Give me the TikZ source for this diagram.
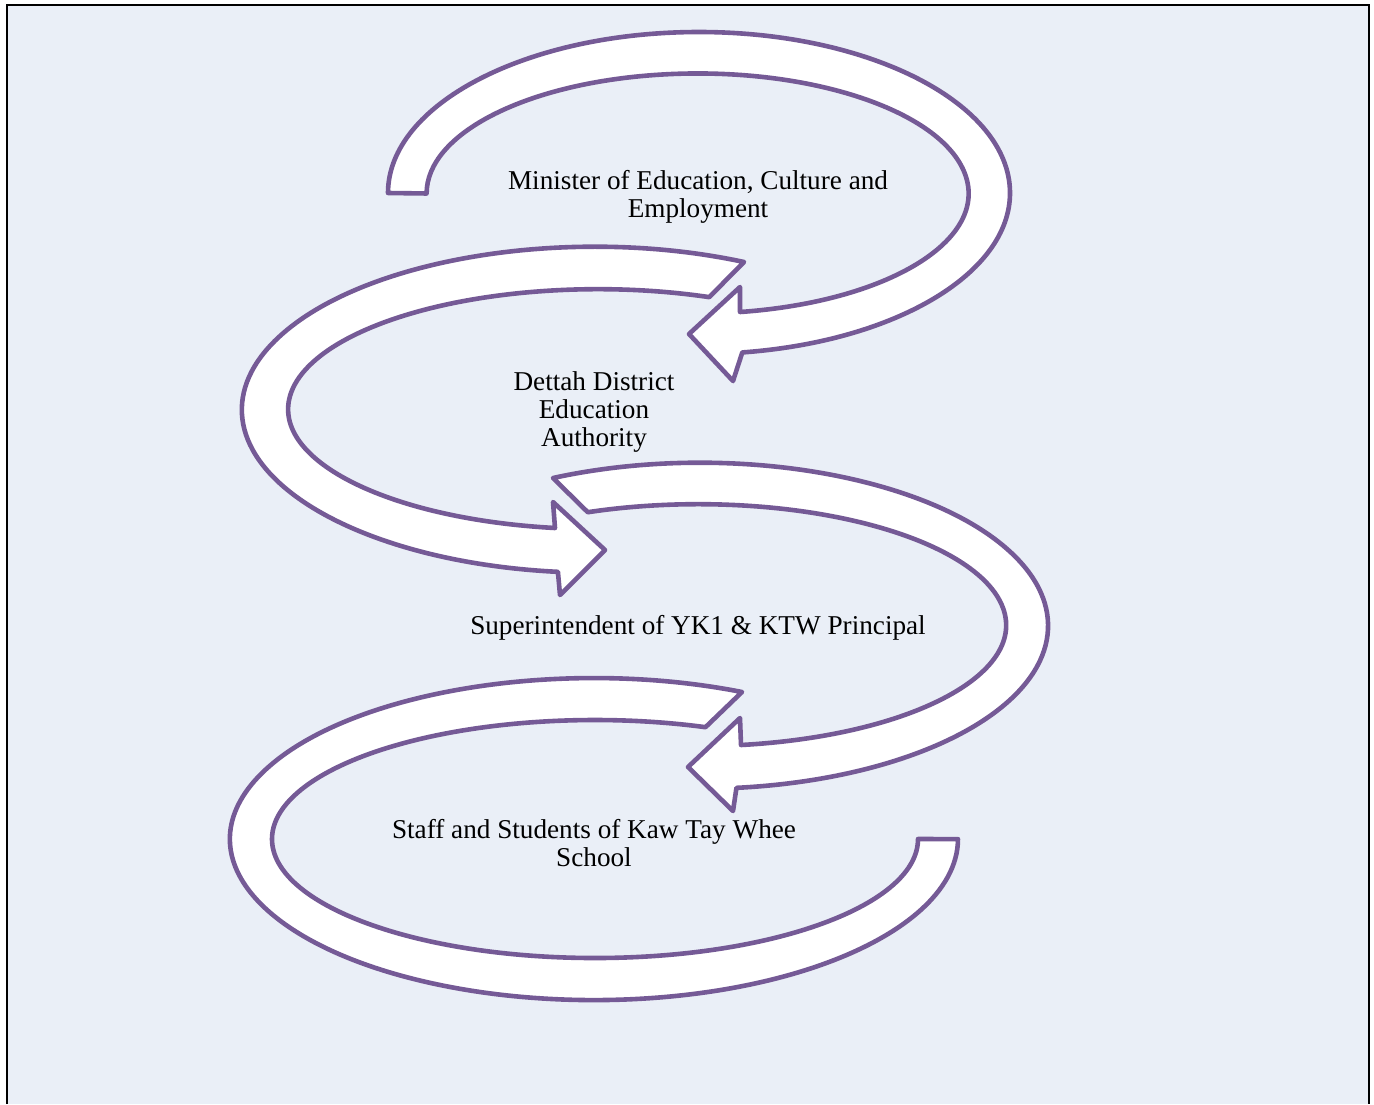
\documentclass[tikz,border=0pt]{standalone}
\usepackage{fontspec}
\setmainfont{Liberation Serif}
\definecolor{PanelBlue}{RGB}{234,239,247}
\definecolor{LoopPurple}{RGB}{117,90,150}
\usepackage{tikz}
\usetikzlibrary{positioning}

\begin{document}
\begin{tikzpicture}[x=0.5pt, y=-0.5pt,
	bigarrow/.style={draw=LoopPurple, line width=2.3pt, fill=white, line join=round},
	lbl/.style={align=center, inner sep=0pt, font=\fontsize{13.6}{14}\selectfont},
	frame/.style={draw=black, line width=1.4pt}]

	\useasboundingbox (0,0) rectangle (1374,1104);
	\fill[PanelBlue] (8,6) rectangle (1368,1104);
	\draw[frame] (7,1104) -- (7,5) -- (1369,5) -- (1369,1104);

	% top loop, turning right
	\draw[bigarrow] (388,193) arc[start angle=180, end angle=442, x radius=311, y radius=161]
		-- (733,381) -- (689,334) -- (740,287) -- (740,312)
		arc[start angle=81, end angle=-180, x radius=271, y radius=120] -- cycle;
	% second loop, turning left
	\draw[bigarrow] (744,262) arc[start angle=295, end angle=96, x radius=353, y radius=163]
		-- (560,595) -- (605,550) -- (553,502) -- (555,528)
		arc[start angle=98, end angle=291, x radius=310, y radius=120] -- cycle;
	% third loop, turning right
	\draw[bigarrow] (553,478) arc[start angle=245, end angle=444, x radius=348, y radius=163]
		-- (733,811) -- (688,767) -- (740,718) -- (741,745)
		arc[start angle=82, end angle=-111, x radius=308, y radius=121] -- cycle;
	% bottom loop, open end
	\draw[bigarrow] (742,692) arc[start angle=294, end angle=0, x radius=364, y radius=161]
		-- (918,839)
		arc[start angle=0, end angle=290, x radius=323, y radius=119] -- cycle;

	\node[lbl] (minister) at (698,197) {Minister of Education, Culture and\\Employment};
	\node[lbl] (dea)      at (594,412) {Dettah District\\Education\\Authority};
	\node[lbl] (super)    at (698,628) {Superintendent of YK1 \& KTW Principal};
	\node[lbl] (staff)    at (594,843) {Staff and Students of Kaw Tay Whee\\School};
\end{tikzpicture}
\end{document}
